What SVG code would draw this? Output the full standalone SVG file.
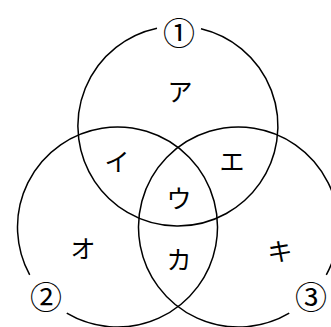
<svg xmlns="http://www.w3.org/2000/svg" width="331" height="327" viewBox="0 0 331 327">
<style>
.c{fill:none;stroke:#000;stroke-width:1.5}
.t{font-family:"Noto Sans CJK JP","Noto Sans",sans-serif;font-size:25px;fill:#000;text-anchor:middle;dominant-baseline:central}
.n{font-family:"Noto Sans CJK JP","DejaVu Sans",sans-serif;font-size:32px;fill:#000;text-anchor:middle;dominant-baseline:central}
</style>
<rect width="331" height="327" fill="#fff"/>
<g id="connectors">
<path id="circle1" class="c" d="M201,28.7 A100,100 0 1 1 157,28.2"/>
<path id="circle2" class="c" d="M29.7,274.9 A100,100 0 1 1 66.75,313.2"/>
<path id="circle3" class="c" d="M289.25,313.2 A100,100 0 1 1 326.3,274.9"/>
</g>
<g id="label1"><text class="n" x="179" y="31">①</text></g>
<g id="label2"><text class="n" x="46" y="295">②</text></g>
<g id="label3"><text class="n" x="311" y="295">③</text></g>
<g id="a"><text class="t" x="180" y="90">ア</text></g>
<g id="i"><text class="t" x="117" y="160">イ</text></g>
<g id="e"><text class="t" x="232" y="160">エ</text></g>
<g id="u"><text class="t" x="179" y="197">ウ</text></g>
<g id="o"><text class="t" x="83" y="247">オ</text></g>
<g id="ka"><text class="t" x="179" y="258">カ</text></g>
<g id="ki"><text class="t" x="280" y="250">キ</text></g>
</svg>
